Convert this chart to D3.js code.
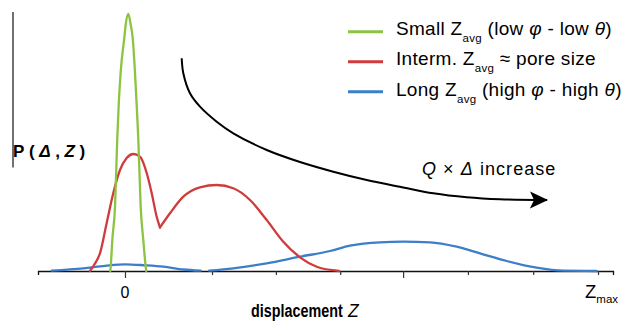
<!DOCTYPE html>
<html>
<head>
<meta charset="utf-8">
<script src="https://cdn.jsdelivr.net/npm/d3@7"></script>
<style>
  html, body { margin: 0; padding: 0; background: #fff; }
  svg { display: block; font-family: "Liberation Sans", Arial, Helvetica, sans-serif; }
</style>
</head>
<body>
<svg id="chart" width="624" height="322"></svg>
<script>
// Displacement distributions P(Δ, Z), as [Z / Zmax, relative probability]
const smallZavg = [
  [-0.0311, 0], [-0.0302, 0.0166], [-0.0268, 0.1197], [-0.0211, 0.2471],
  [-0.0163, 0.5124], [-0.0133, 0.6409], [-0.0091, 0.7683], [-0.0015, 0.8996],
  [0.0015, 0.9508], [0.0070, 0.9923], [0.0121, 0.9508], [0.0163, 0.8996],
  [0.0211, 0.7683], [0.0247, 0.6409], [0.0281, 0.5124], [0.0332, 0.2471],
  [0.0387, 0.1197], [0.0438, 0.0166], [0.0450, 0]
];

// Intermediate Zavg: stagnant peak near zero, then the flowing hump (they meet at a cusp)
const intermZavgPeak = [
  [-0.0740, 0], [-0.0655, 0.0232], [-0.0529, 0.0683], [-0.0387, 0.1853],
  [-0.0247, 0.3012], [-0.0106, 0.3900], [0.0036, 0.4363], [0.0175, 0.4517],
  [0.0317, 0.4413], [0.0459, 0.3784], [0.0564, 0.3012], [0.0670, 0.2097],
  [0.0740, 0.1680]
];
const intermZavgHump = [
  [0.0740, 0.1680], [0.0951, 0.2228], [0.1233, 0.2869], [0.1586, 0.3232],
  [0.1939, 0.3320], [0.2290, 0.3193], [0.2643, 0.2741], [0.2996, 0.1969],
  [0.3347, 0.1131], [0.3700, 0.0529], [0.4053, 0.0166], [0.4476, 0.0012],
  [0.4524, 0]
];

// Long Zavg (null marks the short break in the trace)
const longZavg = [
  [-0.1550, 0.0012], [-0.0882, 0.0104], [-0.0423, 0.0201], [0, 0.0259],
  [0.0423, 0.0220], [0.0810, 0.0166], [0.1233, 0.0058], [0.1600, 0.0012],
  null,
  [0.1780, 0.0012], [0.2290, 0.0104], [0.2996, 0.0297], [0.3700, 0.0552],
  [0.4334, 0.0772], [0.4757, 0.0977], [0.5391, 0.1108], [0.5884, 0.1131],
  [0.6448, 0.1108], [0.7013, 0.0938], [0.7505, 0.0683], [0.8070, 0.0386],
  [0.8704, 0.0127], [0.9266, 0.0012], [0.9972, 0]
];

// Curved arrow: Q × Δ increase
const trendArrow = [
  [0.1199, 0.8212], [0.1233, 0.7633], [0.1374, 0.6861], [0.1586, 0.6344],
  [0.1939, 0.5764], [0.2290, 0.5317], [0.2996, 0.4672], [0.3700, 0.4208],
  [0.4404, 0.3834], [0.5110, 0.3514], [0.5814, 0.3255], [0.6518, 0.3000],
  [0.7224, 0.2846], [0.7928, 0.2768], [0.8922, 0.2741]
];

// X ticks (Z / Zmax)
const majorTicks = [0, 0.588];
const minorTicks = [0.184, 0.319, 0.455, 0.725, 0.863, 1.0];
const yAxisSpan = [0.4, 1.0];

const colors = { small: "#8cc441", interm: "#d03b3b", long: "#3c7ec9" };

const svg = d3.select("#chart");

const x = d3.scaleLinear().domain([-0.1839, 1.0317]).range([38, 613]);
const y = d3.scaleLinear().domain([0, 1]).range([271, 12]);

// ---- x axis ----
const allTicks = majorTicks.concat(minorTicks).sort((a, b) => a - b);
const xAxis = d3.axisBottom(x)
  .tickValues(allTicks)
  .tickSizeOuter(0)
  .tickSize(4)
  .tickFormat("");
const gx = svg.append("g")
  .attr("transform", `translate(0,${y(0)})`)
  .call(xAxis);
gx.select(".domain").attr("stroke", "#111").attr("stroke-width", 1.3);
gx.selectAll(".tick line")
  .attr("stroke", "#333")
  .attr("stroke-width", 1.2)
  .attr("y2", d => majorTicks.includes(d) ? 7 : 4);

// tick labels
svg.append("text")
  .attr("x", x(0)).attr("y", 298)
  .attr("text-anchor", "middle")
  .attr("font-size", 16)
  .text("0");
const zmax = svg.append("text")
  .attr("x", x(1.0) - 13).attr("y", 298)
  .attr("font-size", 18.5);
zmax.append("tspan").text("Z");
zmax.append("tspan").attr("font-size", 11.5).attr("dy", 5).text("max");

// x title: condensed bold word, italic variable
svg.append("text")
  .attr("transform", "translate(251,317) scale(0.82,1)")
  .attr("font-size", 17.5).attr("font-weight", "bold")
  .text("displacement");
svg.append("text")
  .attr("x", 348).attr("y", 317)
  .attr("font-size", 17.5).attr("font-style", "italic")
  .text("Z");

// ---- y axis stub and title ----
svg.append("line")
  .attr("x1", 13).attr("x2", 13)
  .attr("y1", y(yAxisSpan[0])).attr("y2", y(yAxisSpan[1]))
  .attr("stroke", "#111").attr("stroke-width", 1.2);
const yt = svg.append("text")
  .attr("x", 13).attr("y", 157)
  .attr("font-size", 17).attr("font-weight", "bold")
  .attr("letter-spacing", 4.6);
yt.append("tspan").text("P(");
yt.append("tspan").attr("font-style", "italic").text("Δ");
yt.append("tspan").text(",");
yt.append("tspan").attr("font-style", "italic").text("Z");
yt.append("tspan").text(")");

// ---- curves ----
const line = d3.line()
  .defined(d => d !== null)
  .x(d => x(d[0])).y(d => y(d[1]))
  .curve(d3.curveMonotoneX);

const curveStyle = sel => sel
  .attr("fill", "none")
  .attr("stroke-width", 2.3)
  .attr("stroke-linecap", "round")
  .attr("stroke-linejoin", "round");

svg.append("path").datum(longZavg).attr("d", line)
  .call(curveStyle).attr("stroke", colors.long);
svg.append("path").datum(intermZavgPeak).attr("d", line)
  .call(curveStyle).attr("stroke", colors.interm);
svg.append("path").datum(intermZavgHump).attr("d", line)
  .call(curveStyle).attr("stroke", colors.interm);
svg.append("path").datum(smallZavg).attr("d", line)
  .call(curveStyle).attr("stroke", colors.small);

// ---- arrow ----
svg.append("defs").append("marker")
  .attr("id", "head")
  .attr("viewBox", "0 -9 18 18")
  .attr("refX", 17).attr("refY", 0)
  .attr("markerWidth", 18).attr("markerHeight", 18)
  .attr("markerUnits", "userSpaceOnUse")
  .attr("orient", "auto")
  .append("path")
  .attr("d", "M0,-8.5L18,0L0,8.5L4,0Z")
  .attr("fill", "#000");

svg.append("path").datum(trendArrow)
  .attr("d", d3.line().x(d => x(d[0])).y(d => y(d[1])).curve(d3.curveCatmullRom))
  .attr("fill", "none").attr("stroke", "#000").attr("stroke-width", 2)
  .attr("marker-end", "url(#head)");

const at = svg.append("text")
  .attr("x", 422).attr("y", 175)
  .attr("font-size", 18).attr("letter-spacing", 1.05);
at.append("tspan").attr("font-style", "italic").text("Q");
at.append("tspan").text(" × ");
at.append("tspan").attr("font-style", "italic").text("Δ");
at.append("tspan").text(" increase");

// ---- legend ----
const legendItems = [
  { key: "small", parts: [["Small ", ""], ["Z", ""], ["avg", "sub"], [" (low ", ""], ["φ", "i"], [" - low ", ""], ["θ", "i"], [")", ""]] },
  { key: "interm", parts: [["Interm. ", ""], ["Z", ""], ["avg", "sub"], [" ≈ pore size", ""]] },
  { key: "long", parts: [["Long ", ""], ["Z", ""], ["avg", "sub"], [" (high ", ""], ["φ", "i"], [" - high ", ""], ["θ", "i"], [")", ""]] }
];
const legend = svg.append("g");
legendItems.forEach((item, i) => {
  const cy = 31.7 + i * 30;
  legend.append("line")
    .attr("x1", 348).attr("x2", 383)
    .attr("y1", cy).attr("y2", cy)
    .attr("stroke", colors[item.key]).attr("stroke-width", 3);
  const t = legend.append("text")
    .attr("x", 396).attr("y", cy + 3.5 + (i === 2 ? 0.8 : 0))
    .attr("font-size", 19).attr("letter-spacing", 0.3);
  let shifted = false;
  item.parts.forEach(([txt, kind]) => {
    const ts = t.append("tspan").text(txt);
    if (kind === "sub") {
      ts.attr("font-size", 11.5).attr("dy", 6.5);
      shifted = true;
    } else if (shifted) {
      ts.attr("dy", -6.5);
      shifted = false;
    }
    if (kind === "i") ts.attr("font-style", "italic");
  });
});
</script>
</body>
</html>
